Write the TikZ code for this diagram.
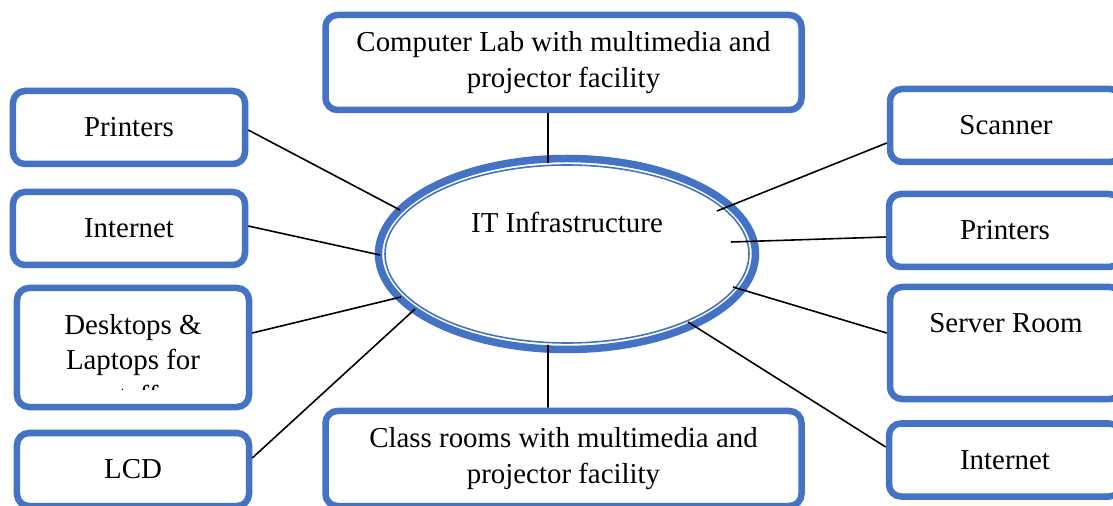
\documentclass[tikz,border=0pt]{standalone}
\usepackage{fontspec}
\setmainfont{Liberation Serif}
\usepackage{tikz}
\usetikzlibrary{shapes.geometric}
\definecolor{boxblue}{HTML}{4472C4}
\tikzset{
itbox/.style={draw=boxblue, line width=6.5bp, rounded corners=12bp, minimum width=232bp, minimum height=73bp, inner sep=0pt, align=center},
link/.style={draw=black, line width=1.6bp},
}

\begin{document}
\begin{tikzpicture}[x=1bp, y=-1bp, font=\fontsize{29}{36}\selectfont]
\useasboundingbox (0,0) rectangle (1113,506);
\clip (0,0) rectangle (1113,506);
%%%%% Centre %%%%%
\node[ellipse, draw=boxblue, line width=7.5bp, minimum width=377bp, minimum height=191bp, inner sep=0pt] (it) at (567,254) {};
\draw[boxblue, line width=1.6bp] (it.center) ellipse (182bp and 89bp);
\node (ittext) at (567,222) {IT Infrastructure};
%%%%% Boxes %%%%%
\node[itbox, minimum width=476bp, minimum height=95bp] (lab) at (563.5,62.5) {Computer Lab with multimedia and\\projector facility};
\node[itbox] (lpr) at (129,127.5) {Printers};
\node[itbox] (lnet) at (129,228.5) {Internet};
\node[itbox, minimum height=119bp] (desk) at (133,347.5) {};
\node[itbox] (lcd) at (133,469.5) {LCD};
\node[itbox] (scan) at (1006,125.5) {Scanner};
\node[itbox] (rpr) at (1005,230.5) {Printers};
\node[itbox, minimum height=112bp] (srv) at (1006,343) {};
\node[itbox] (rnet) at (1005,460) {Internet};
\node[itbox, minimum width=476bp, minimum height=95bp] (class) at (563.5,458.5) {Class rooms with multimedia and\\projector facility};
\node (srvtxt) at (1006,323) {Server Room};
\begin{scope}
\clip (22,292) rectangle (243,389);
\node[align=center] (desktxt) at (133,360) {Desktops \&\\Laptops for\\staff};
\end{scope}
%%%%% Links %%%%%
\coordinate (etop) at (548,163);
\coordinate (ebot) at (548,345);
\coordinate (e1) at (400,210);
\coordinate (e2) at (380,255);
\coordinate (e3) at (401,297);
\coordinate (e4) at (415,309);
\coordinate (e5) at (717,211);
\coordinate (e6) at (731,242);
\coordinate (e7) at (733,287);
\coordinate (e8) at (688,322);
\draw[link] ([xshift=-15.5bp]lab.south) -- (etop);
\draw[link] ([xshift=-15.5bp]class.north) -- (ebot);
\draw[link] ([yshift=-2.5bp]lpr.east) -- (e1);
\draw[link] ([yshift=2.5bp]lnet.east) -- (e2);
\draw[link] ([yshift=14.5bp]desk.east) -- (e3);
\draw[link] ([yshift=11.5bp]lcd.east) -- (e4);
\draw[link] ([yshift=-17.5bp]scan.west) -- (e5);
\draw[link] ([yshift=-6.5bp]rpr.west) -- (e6);
\draw[link] ([yshift=10bp]srv.west) -- (e7);
\draw[link] ([yshift=13bp]rnet.west) -- (e8);
\end{tikzpicture}
\end{document}
